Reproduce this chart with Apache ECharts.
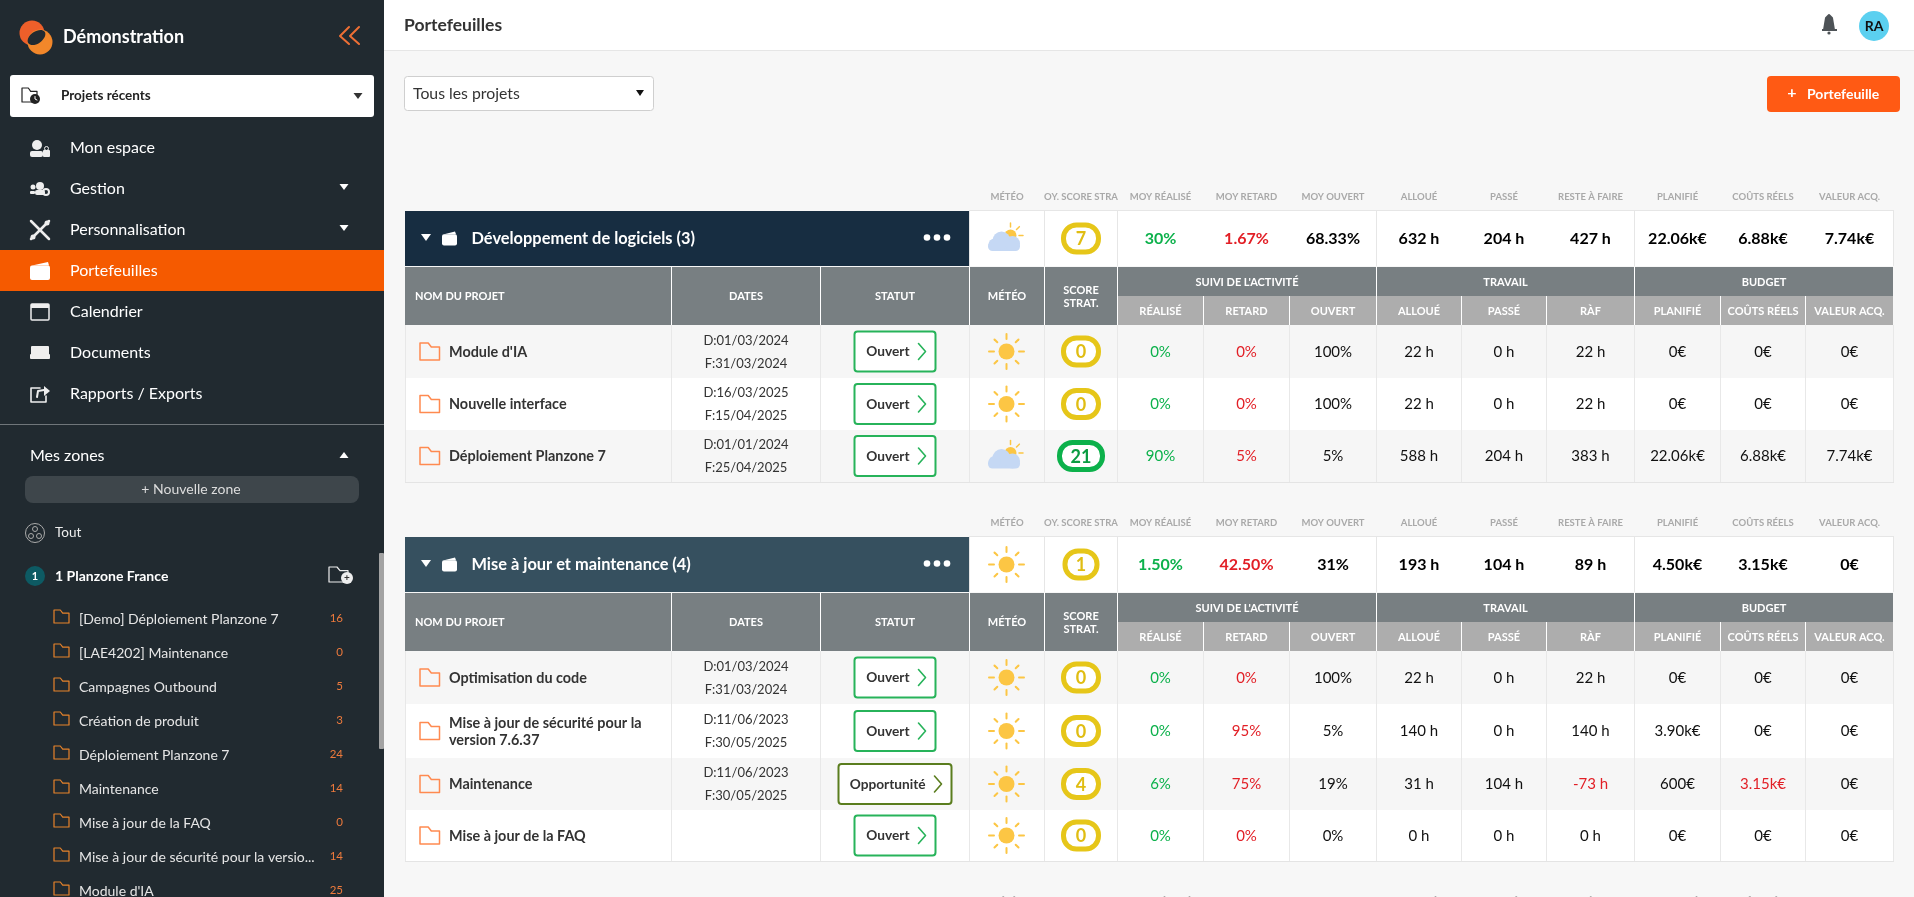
<!DOCTYPE html>
<html lang="fr">
<head>
<meta charset="utf-8">
<title>Portefeuilles</title>
<script src="https://cdn.jsdelivr.net/npm/echarts@6/dist/echarts.min.js"></script>
<style>
html, body { margin: 0; padding: 0; overflow: hidden; background: #f7f7f7; }
#main { width: 1914px; height: 897px; }
</style>
</head>
<body>
<div id="main"></div>
<script>
// menu lateral
const menuItems = ['Mon espace', 'Gestion', 'Personnalisation', 'Portefeuilles', 'Calendrier', 'Documents', 'Rapports / Exports'];
const zoneProjects = ['[Demo] Déploiement Planzone 7', '[LAE4202] Maintenance', 'Campagnes Outbound', 'Création de produit', 'Déploiement Planzone 7', 'Maintenance', 'Mise à jour de la FAQ', 'Mise à jour de sécurité pour la versio...', "Module d'IA"];
const zoneCounts = [16, 0, 5, 3, 24, 14, 0, 14, 25];

// entetes
const topLabels = ['MÉTÉO', 'OY. SCORE STRA', 'MOY RÉALISÉ', 'MOY RETARD', 'MOY OUVERT', 'ALLOUÉ', 'PASSÉ', 'RESTE À FAIRE', 'PLANIFIÉ', 'COÛTS RÉELS', 'VALEUR ACQ.'];
const leftHeads = ['NOM DU PROJET', 'DATES', 'STATUT', 'MÉTÉO', 'SCORE\nSTRAT.'];
const groupHeads = ['SUIVI DE L\'ACTIVITÉ', 'TRAVAIL', 'BUDGET'];
const subHeads = ['RÉALISÉ', 'RETARD', 'OUVERT', 'ALLOUÉ', 'PASSÉ', 'RÀF', 'PLANIFIÉ', 'COÛTS RÉELS', 'VALEUR ACQ.'];

// portefeuille 1
const p1Name = 'Développement de logiciels (3)';
const p1Meteo = 'cloud';
const p1Score = 7;
const p1Totals = ['30%', '1.67%', '68.33%', '632 h', '204 h', '427 h', '22.06k€', '6.88k€', '7.74k€'];
const p1Projects = ["Module d'IA", 'Nouvelle interface', 'Déploiement Planzone 7'];
const p1Dates = [['D:01/03/2024', 'F:31/03/2024'], ['D:16/03/2025', 'F:15/04/2025'], ['D:01/01/2024', 'F:25/04/2025']];
const p1Statuts = ['Ouvert', 'Ouvert', 'Ouvert'];
const p1Meteos = ['sun', 'sun', 'cloud'];
const p1Scores = [0, 0, 21];
const p1Realise = ['0%', '0%', '90%'];
const p1Retard = ['0%', '0%', '5%'];
const p1Ouvert = ['100%', '100%', '5%'];
const p1Alloue = ['22 h', '22 h', '588 h'];
const p1Passe = ['0 h', '0 h', '204 h'];
const p1Raf = ['22 h', '22 h', '383 h'];
const p1Planifie = ['0€', '0€', '22.06k€'];
const p1Couts = ['0€', '0€', '6.88k€'];
const p1Valeur = ['0€', '0€', '7.74k€'];

// portefeuille 2
const p2Name = 'Mise à jour et maintenance (4)';
const p2Meteo = 'sun';
const p2Score = 1;
const p2Totals = ['1.50%', '42.50%', '31%', '193 h', '104 h', '89 h', '4.50k€', '3.15k€', '0€'];
const p2Projects = ['Optimisation du code', 'Mise à jour de sécurité pour la\nversion 7.6.37', 'Maintenance', 'Mise à jour de la FAQ'];
const p2Dates = [['D:01/03/2024', 'F:31/03/2024'], ['D:11/06/2023', 'F:30/05/2025'], ['D:11/06/2023', 'F:30/05/2025'], []];
const p2Statuts = ['Ouvert', 'Ouvert', 'Opportunité', 'Ouvert'];
const p2Meteos = ['sun', 'sun', 'sun', 'sun'];
const p2Scores = [0, 0, 4, 0];
const p2Realise = ['0%', '0%', '6%', '0%'];
const p2Retard = ['0%', '95%', '75%', '0%'];
const p2Ouvert = ['100%', '5%', '19%', '0%'];
const p2Alloue = ['22 h', '140 h', '31 h', '0 h'];
const p2Passe = ['0 h', '0 h', '104 h', '0 h'];
const p2Raf = ['22 h', '140 h', '-73 h', '0 h'];
const p2Planifie = ['0€', '3.90k€', '600€', '0€'];
const p2Couts = ['0€', '0€', '3.15k€', '0€'];
const p2Valeur = ['0€', '0€', '0€', '0€'];

// mise en page
const FONT = 'Lato, "Noto Sans", sans-serif';
const GREEN = '#0cb14b', RED = '#e21f26', ORANGE = '#f55a00';
const colEdges = [405, 671, 820, 969, 1044, 1117, 1203, 1289, 1376, 1461, 1546, 1634, 1720, 1805, 1893];
const W = 1914, H = 897;

// petites fonctions de dessin
function rect(x, y, w, h, fill, r, stroke, lw) {
    return { type: 'rect', shape: { x: x, y: y, width: w, height: h, r: r || 0 }, style: { fill: fill || 'none', stroke: stroke || 'none', lineWidth: lw || 1 }, silent: true };
}
function circle(cx, cy, r, fill, stroke, lw) {
    return { type: 'circle', shape: { cx: cx, cy: cy, r: r }, style: { fill: fill || 'none', stroke: stroke || 'none', lineWidth: lw || 1 }, silent: true };
}
function line(points, stroke, lw) {
    return { type: 'polyline', shape: { points: points }, style: { fill: 'none', stroke: stroke, lineWidth: lw || 1, lineCap: 'round', lineJoin: 'round' }, silent: true };
}
function poly(points, fill, stroke, lw) {
    return { type: 'polygon', shape: { points: points }, style: { fill: fill || 'none', stroke: stroke || 'none', lineWidth: lw || 1, lineJoin: 'round' }, silent: true };
}
function text(str, x, y, size, color, weight, align, lh) {
    return {
        type: 'text', silent: true,
        style: {
            text: str, x: x, y: y, fill: color,
            font: (weight || 'normal') + ' ' + size + 'px ' + FONT,
            align: align || 'left', verticalAlign: 'middle',
            textAlign: align || 'left', textVerticalAlign: 'middle',
            lineHeight: lh || undefined
        }
    };
}
function caret(x, y, w, h, color, up) {
    return poly(up ? [[x - w / 2, y + h / 2], [x + w / 2, y + h / 2], [x, y - h / 2]] : [[x - w / 2, y - h / 2], [x + w / 2, y - h / 2], [x, y + h / 2]], color);
}
function folder(x, y, w, h, color, lw) {
    const t = h * 0.24;
    return poly([[x, y], [x + w * 0.42, y], [x + w * 0.58, y + t], [x + w, y + t], [x + w, y + h], [x, y + h]], 'none', color, lw);
}
function wallet(x, y, w, h, color) {
    return [rect(x, y + h * 0.2, w, h * 0.8, color, 2), poly([[x + 2, y + h * 0.2], [x + w - 2, y], [x + w - 1, y + h * 0.2]], color)];
}
function sun(cx, cy) {
    const els = [circle(cx, cy, 8, '#fcc644')];
    for (let i = 0; i < 8; i++) {
        const a = i * Math.PI / 4, r0 = i % 2 ? 13 : 12.5, r1 = i % 2 ? 17 : 17.5;
        els.push(line([[cx + Math.cos(a) * r0, cy + Math.sin(a) * r0], [cx + Math.cos(a) * r1, cy + Math.sin(a) * r1]], '#fcc644', 2));
    }
    return els;
}
function cloud(cx, cy) {
    const sx = cx + 4, sy = cy - 3, els = [circle(sx, sy, 6, '#fcc644')];
    [-90, -45, 0].forEach(function (d) {
        const a = d * Math.PI / 180;
        els.push(line([[sx + Math.cos(a) * 8.5, sy + Math.sin(a) * 8.5], [sx + Math.cos(a) * 12.5, sy + Math.sin(a) * 12.5]], '#fcc644', 1.5));
    });
    els.push(rect(cx - 18.5, cy + 3, 32, 9.5, '#c5d8f4', 4.5));
    els.push(circle(cx - 5, cy + 2, 9, '#c5d8f4'));
    els.push(circle(cx - 12, cy + 6, 6, '#c5d8f4'));
    els.push(circle(cx + 6, cy + 5, 7.5, '#c5d8f4'));
    return els;
}
function scoreBadge(cx, cy, v) {
    const s = String(v), color = v >= 10 ? GREEN : '#e6c619', w = s.length > 1 ? 43 : (v === 1 ? 32 : 35);
    return [
        rect(cx - w / 2, cy - 13.5, w, 27, '#fff', 13, color, 5),
        text(s, cx, cy + 1, 18, v >= 10 ? '#0a9c42' : '#e0bd12', 'bold', 'center')
    ];
}
function statusBtn(cx, cy, s) {
    const half = s === 'Ouvert' ? 40.5 : 56.5, color = s === 'Ouvert' ? '#27b35a' : '#5a7d1e', right = cx + half;
    return [
        rect(cx - half, cy - 20, half * 2, 40, '#fff', 3, color, 2),
        text(s, right - 26, cy + 0.5, 13.7, '#333', 'bold', 'right'),
        line([[right - 17, cy - 8], [right - 10, cy], [right - 17, cy + 8]], color, 1.6)
    ];
}

function meteoIcon(kind, cx, cy) {
    return kind === 'cloud' ? cloud(cx, cy) : sun(cx, cy);
}

function moneyValue(s) {
    const n = parseFloat(s);
    return s.indexOf('k') >= 0 ? n * 1000 : n;
}

// chaque cellule est placee sur les axes puis dessinee par draw(cx, cy, w, h)
const cells = [];
function addCell(x0, y0, x1, y1, draw) {
    cells.push({ x0: x0, y0: y0, x1: x1, y1: y1, draw: draw });
}
function fillCell(x0, y0, x1, y1, fill) {
    addCell(x0, y0, x1, y1, function (cx, cy, w, h) { return [rect(cx - w / 2, cy - h / 2, w, h, fill)]; });
}
function textCell(x0, y0, x1, y1, str, size, color, weight, lh) {
    addCell(x0, y0, x1, y1, function (cx, cy) { return [text(str, cx + 0.5, cy + 0.5, size, color, weight, 'center', lh)]; });
}
function vline(x, y0, y1, color) {
    addCell(x, y0, x + 1, y1, function (cx, cy, w, h) { return [rect(cx - w / 2, cy - h / 2, 1, h, color)]; });
}

function addLabels(y) {
    topLabels.forEach(function (l, i) {
        textCell(colEdges[i + 3], y - 6, colEdges[i + 4], y + 6, l, 9.5, '#a9a9a9', 'bold');
    });
}

function addPortfolio(top, rowHeights, t) {
    const e = colEdges, cardBottom = top + 55, headTop = top + 56, subTop = top + 85, headBottom = top + 114;
    const lastCol = e[e.length - 1];

    addLabels(top - 15);

    // bandeau du portefeuille
    fillCell(e[3], top, lastCol, cardBottom, '#fff');
    fillCell(e[0], top, e[3], cardBottom, t.color);
    addCell(e[0], top, e[3], cardBottom, function (cx, cy, w) {
        const x = cx - w / 2;
        return [
            caret(x + 21, cy - 1, 10, 7, '#fff'),
            text(t.name, x + 66.5, cy + 0.5, 16.4, '#fff', 'bold'),
            circle(x + 522, cy - 1, 3.3, '#fff'), circle(x + 532, cy - 1, 3.3, '#fff'), circle(x + 542, cy - 1, 3.3, '#fff')
        ].concat(wallet(x + 37, cy - 7, 15, 14, '#fff'));
    });
    addCell(e[3], top, e[4], cardBottom, function (cx, cy) { return meteoIcon(t.meteo, cx, cy); });
    addCell(e[4], top, e[5], cardBottom, function (cx, cy) { return scoreBadge(cx + 0.5, cy, t.score); });
    t.totals.forEach(function (v, i) {
        const color = i === 0 ? GREEN : (i === 1 ? RED : '#000');
        textCell(e[i + 5], top, e[i + 6], cardBottom, v, 16, color, 'bold');
    });
    [e[3], e[4], e[5], e[8], e[11], lastCol].forEach(function (x) { vline(x, top, cardBottom, '#e6e6e6'); });
    fillCell(e[3], top - 1, lastCol + 1, top, '#e6e6e6');

    // entetes de colonnes
    fillCell(e[0], headTop, e[5], headBottom, '#787f82');
    fillCell(e[5], headTop, lastCol, subTop, '#787f82');
    fillCell(e[5], subTop, lastCol, headBottom, '#adadad');
    leftHeads.forEach(function (h, i) {
        if (i === 0) {
            addCell(e[0], headTop, e[1], headBottom, function (cx, cy, w) { return [text(h, cx - w / 2 + 10, cy, 11, '#fff', 'bold')]; });
        } else {
            textCell(e[i], headTop, e[i + 1], headBottom, h, 11, '#fff', 'bold', i === 4 ? 13 : 0);
        }
    });
    groupHeads.forEach(function (h, i) {
        textCell(e[5 + i * 3], headTop, e[8 + i * 3], subTop, h, 11, '#fff', 'bold');
    });
    subHeads.forEach(function (h, i) {
        textCell(e[i + 5], subTop, e[i + 6], headBottom, h, 11, '#fff', 'bold');
    });
    for (let i = 1; i < e.length - 1; i++) {
        const from = (i < 6 || (i - 5) % 3 === 0) ? headTop : subTop;
        vline(e[i], from, headBottom, '#fff');
    }

    // lignes de projets
    let y = headBottom;
    t.projects.forEach(function (name, r) {
        const y1 = y + rowHeights[r], mid = y;
        fillCell(e[0], mid, lastCol, y1, r % 2 ? '#fff' : '#f6f6f6');
        addCell(e[0], mid, e[1], y1, function (cx, cy, w) {
            const x = cx - w / 2;
            return [folder(x + 15, cy - 8.5, 19.5, 17, '#ff8a50', 1.5), text(name, x + 44, cy + 0.5, 14.4, '#333', 'bold', 'left', 17)];
        });
        const d = t.dates[r];
        if (d.length) {
            addCell(e[1], mid, e[2], y1, function (cx, cy) {
                return [text(d[0], cx + 0.5, cy - 11, 13, '#333', 'normal', 'center'), text(d[1], cx + 0.5, cy + 12, 13, '#333', 'normal', 'center')];
            });
        }
        addCell(e[2], mid, e[3], y1, function (cx, cy) { return statusBtn(cx + 0.5, cy, t.statuts[r]); });
        addCell(e[3], mid, e[4], y1, function (cx, cy) { return meteoIcon(t.meteos[r], cx, cy); });
        addCell(e[4], mid, e[5], y1, function (cx, cy) { return scoreBadge(cx + 0.5, cy, t.scores[r]); });
        const values = [t.realise[r], t.retard[r], t.ouvert[r], t.alloue[r], t.passe[r], t.raf[r], t.planifie[r], t.couts[r], t.valeur[r]];
        values.forEach(function (v, i) {
            let color = '#111';
            if (i === 0) color = GREEN;
            if (i === 1) color = RED;
            if (i === 5 && v.charAt(0) === '-') color = RED;
            if (i === 7 && moneyValue(v) > moneyValue(t.planifie[r])) color = RED;
            textCell(e[i + 5], mid, e[i + 6], y1, v, 15, color, 'normal');
        });
        y = y1;
    });
    for (let i = 0; i < e.length; i++) vline(e[i], headBottom, y, '#e8e8e8');
    fillCell(e[0], y, lastCol + 1, y + 1, '#e4e4e4');
}

addPortfolio(211, [53, 52, 52], {
    color: '#172d41', name: p1Name, meteo: p1Meteo, score: p1Score, totals: p1Totals, projects: p1Projects, dates: p1Dates,
    statuts: p1Statuts, meteos: p1Meteos, scores: p1Scores, realise: p1Realise, retard: p1Retard, ouvert: p1Ouvert,
    alloue: p1Alloue, passe: p1Passe, raf: p1Raf, planifie: p1Planifie, couts: p1Couts, valeur: p1Valeur
});
addPortfolio(537, [53, 54, 52, 51], {
    color: '#36505f', name: p2Name, meteo: p2Meteo, score: p2Score, totals: p2Totals, projects: p2Projects, dates: p2Dates,
    statuts: p2Statuts, meteos: p2Meteos, scores: p2Scores, realise: p2Realise, retard: p2Retard, ouvert: p2Ouvert,
    alloue: p2Alloue, passe: p2Passe, raf: p2Raf, planifie: p2Planifie, couts: p2Couts, valeur: p2Valeur
});
// le portefeuille suivant est coupe par le bas de la fenetre
addLabels(901);

// barre laterale et en-tete de page
function chrome() {
    const els = [];
    const side = '#212a30', W_SIDE = 384;
    els.push(rect(0, 0, W, 50, '#fff'), rect(W_SIDE, 50, W - W_SIDE, 1, '#e6e6e6'));
    els.push(rect(0, 0, W_SIDE, H, side));

    // logo
    els.push(circle(32, 33, 12.5, '#ee5f2a'), circle(40, 42, 12.5, '#f2872a'));
    els.push({ type: 'ellipse', shape: { cx: 36.5, cy: 37.5, rx: 10, ry: 6 }, style: { fill: side }, rotation: 0.61, originX: 36.5, originY: 37.5, silent: true });
    els.push(text('Démonstration', 63, 37, 18, '#fff', 'bold'));
    els.push(line([[349, 27], [340, 36], [349, 44]], '#ed6f35', 2), line([[359, 27], [350, 36], [359, 44]], '#ed6f35', 2));

    // projets recents
    els.push(rect(10, 75, 364, 42, '#fff', 3));
    els.push(folder(22, 88, 15, 14, '#222', 1.2), circle(35, 99, 5, '#222'), line([[35, 96.5], [35, 99], [37, 100]], '#fff', 1));
    els.push(text('Projets récents', 61, 95.5, 13.5, '#222', 'bold'));
    els.push(caret(358, 96, 9, 6, '#333'));

    // menu
    els.push(rect(0, 250, W_SIDE, 41, ORANGE));
    menuItems.forEach(function (m, i) {
        els.push(text(m, 70, 148 + i * 41, 16, '#fff', 'normal'));
    });
    els.push(caret(344, 187, 9, 6, '#fff'), caret(344, 228, 9, 6, '#fff'));
    // icones du menu
    els.push(circle(37, 145, 5, '#eee'), rect(30, 151, 13, 6, '#eee', 2), rect(43, 150, 7, 7, '#eee', 1), circle(46.5, 148.5, 2, 'none', '#eee', 1));
    els.push(circle(40, 186, 4, '#eee'), circle(33, 187, 2.5, '#eee'), rect(35, 190, 10, 5, '#eee', 2), circle(46, 192, 3, 'none', '#eee', 2), rect(30, 191, 5, 3, '#eee', 1));
    els.push(line([[31, 221], [49, 239]], '#eee', 2.5), line([[49, 221], [31, 239]], '#eee', 2.5), circle(47, 223, 2.5, '#eee'), circle(33, 237, 2.5, '#eee'));
    wallet(30, 262, 20, 18, '#fff').forEach(function (w) { els.push(w); });
    els.push(rect(31, 304, 18, 16, 'none', 1, '#eee', 1.5), rect(31, 304, 18, 4, '#eee'));
    els.push(rect(31, 346, 18, 9, '#eee', 1), rect(30, 354, 20, 5, '#eee', 1));
    els.push(line([[40, 388], [31, 388], [31, 402], [46, 402], [46, 396]], '#eee', 1.6), line([[37, 397], [38, 391], [44, 390]], '#eee', 2), poly([[44, 386], [50, 391], [44, 396]], '#eee'));
    els.push(rect(0, 424, W_SIDE, 1, '#70767a'));

    // zones
    els.push(text('Mes zones', 30, 456, 16, '#fff', 'normal'), caret(344, 455, 9, 6, '#fff', true));
    els.push(rect(25, 476, 334, 27, '#3e464b', 8));
    els.push(text('+ Nouvelle zone', 191, 489, 14, '#ddd', 'normal', 'center'));
    els.push(circle(35, 533, 9.5, 'none', '#aaa', 1), circle(35, 529, 2.5, 'none', '#aaa', 1), circle(31, 536, 2.5, 'none', '#aaa', 1), circle(39, 536, 2.5, 'none', '#aaa', 1));
    els.push(text('Tout', 55, 533, 13.5, '#eee', 'normal'));
    els.push(circle(35, 576, 10, '#0d5a63'), text('1', 35, 576.5, 11, '#fff', 'bold', 'center'));
    els.push(text('1 Planzone France', 55, 576.5, 14, '#fff', 'bold'));
    els.push(folder(329, 567, 19, 15, '#eee', 1.2), circle(347, 578, 6, '#eee'), text('+', 347, 578, 10, '#333', 'bold', 'center'));
    zoneProjects.forEach(function (z, i) {
        const y = 619 + i * 34;
        els.push(folder(54, y - 9, 15, 13, '#e8832a', 1.2));
        els.push(text(z, 79, y, 14, '#e6e6e6', 'normal'));
        els.push(text(String(zoneCounts[i]), 343, y - 1, 11.5, '#ed7a3c', 'normal', 'right'));
    });
    els.push(rect(379, 553, 5, 196, '#a3a3a3', 1));

    // en-tete
    els.push(text('Portefeuilles', 404, 25.5, 17.5, '#333', 'bold'));
    els.push(poly([[1829, 15], [1832, 18], [1834, 30], [1824, 30], [1826, 18]], '#4e5357', '#4e5357', 2), rect(1822, 29, 15, 2, '#4e5357'), circle(1829, 33, 1.6, '#4e5357'));
    els.push(circle(1874, 26, 15, '#5bd0f0'), text('RA', 1874, 26.5, 14, '#111', 'bold', 'center'));
    els.push(rect(404.5, 76.5, 249, 34, '#fff', 3, '#cfcfcf', 1));
    els.push(text('Tous les projets', 413, 94, 15.8, '#333', 'normal'), caret(640, 93, 8, 6, '#111'));
    els.push(rect(1767, 76, 133, 36, '#ff5a14', 4));
    els.push(text('+', 1792, 92.5, 16, '#fff', 'bold', 'center'), text('Portefeuille', 1807, 94, 14, '#fff', 'bold'));
    return els;
}

const myChart = echarts.init(document.getElementById('main'), null, { renderer: 'canvas' });
myChart.setOption({
    animation: false,
    backgroundColor: '#f7f7f7',
    grid: { left: 0, right: 0, top: 0, bottom: 0 },
    xAxis: { type: 'value', min: 0, max: W, show: false },
    yAxis: { type: 'value', min: 0, max: H, inverse: true, show: false },
    graphic: { elements: chrome() },
    series: [{
        type: 'custom',
        clip: false,
        silent: true,
        coordinateSystem: 'cartesian2d',
        encode: { x: [0, 2], y: [1, 3] },
        data: cells.map(function (c, i) { return [c.x0, c.y0, c.x1, c.y1, i]; }),
        renderItem: function (params, api) {
            const p0 = api.coord([api.value(0), api.value(1)]);
            const p1 = api.coord([api.value(2), api.value(3)]);
            const w = p1[0] - p0[0], h = p1[1] - p0[1];
            return { type: 'group', children: cells[api.value(4)].draw(p0[0] + w / 2, p0[1] + h / 2, w, h) };
        }
    }]
});
</script>
</body>
</html>
